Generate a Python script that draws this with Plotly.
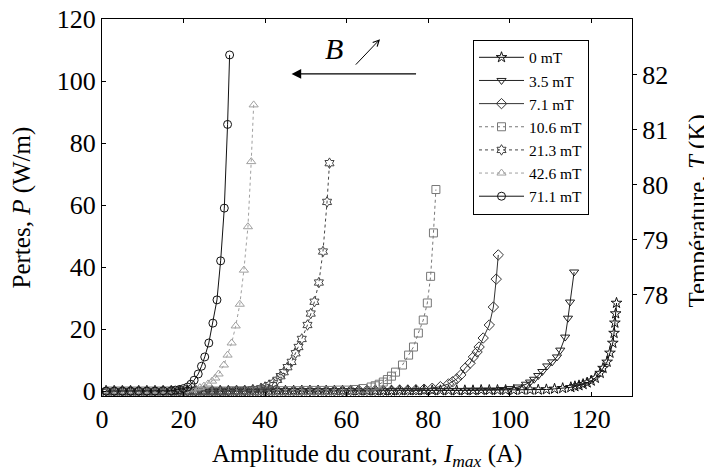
import plotly.graph_objects as go

# Data (current in A, losses in W/m)

i_0 = [1, 3, 5, 7, 9, 11, 13, 15, 17, 19, 21, 23, 25, 27, 29, 31, 33, 35, 37, 39, 41,
       43, 45, 47, 49, 51, 53, 55, 57, 59, 61, 63, 65, 67, 69, 71,
       73, 75, 77, 79, 81, 83, 85, 87, 89, 91, 93, 95, 97, 99, 101, 103, 105, 107,
       109, 111, 113, 115, 116, 117, 118, 119, 120, 121, 122.2, 122.9, 123.9, 124.6,
       125.3, 125.6, 125.8, 126.0, 126.2]
p_0 = [0.0, 0.0, 0.0, 0.0, 0.0, 0.0, 0.0, 0.0, 0.0, 0.0, 0.0, 0.0, 0.0, 0.0, 0.0, 0.0, 0.0, 0.0, 0.0, 0.0, 0.0,
       0.1, 0.1, 0.1, 0.1, 0.1, 0.1, 0.1, 0.1, 0.1, 0.1, 0.1, 0.1, 0.1, 0.1, 0.1,
       0.2, 0.2, 0.2, 0.2, 0.2, 0.2, 0.2, 0.2, 0.2, 0.2, 0.3, 0.3, 0.3, 0.3, 0.3, 0.4, 0.4, 0.4,
       0.5, 0.7, 0.9, 1.2, 1.5, 1.8, 2.2, 2.7, 3.3, 4.2, 5.8, 7.4, 9.4, 12.3,
       15.5, 18.7, 22.0, 25.0, 28.4]

i_35 = [2, 4, 6, 8, 10, 12, 14, 16, 18, 20, 22, 24, 26, 28, 30, 32, 34, 36, 38, 40,
        42, 44, 46, 48, 50, 52, 54, 56, 58, 60, 62, 64, 66, 68, 70,
        72, 74, 76, 78, 80, 82, 84, 86, 88, 90, 92, 94, 96,
        98, 100, 102, 104, 105, 106, 107, 108, 109.2, 110.4, 111.6, 112.4, 113.6,
        114.3, 114.8, 115.8]
p_35 = [0.0, 0.0, 0.0, 0.0, 0.0, 0.0, 0.0, 0.0, 0.0, 0.0, 0.0, 0.0, 0.0, 0.0, 0.0, 0.0, 0.0, 0.0, 0.0, 0.0,
        0.1, 0.1, 0.1, 0.1, 0.1, 0.1, 0.1, 0.1, 0.1, 0.1, 0.1, 0.1, 0.1, 0.1, 0.1,
        0.2, 0.2, 0.2, 0.2, 0.2, 0.2, 0.2, 0.2, 0.2, 0.3, 0.3, 0.3, 0.3,
        0.5, 0.8, 1.3, 2.2, 2.9, 3.8, 5.0, 6.3, 8.1, 9.4, 11.0, 13.2, 17.4,
        23.5, 28.7, 38.4]

i_71 = [1, 3, 5, 7, 9, 11, 13, 15, 17, 19, 21, 23, 25, 27, 29, 31, 33, 35,
        37, 39, 41, 43, 45, 47, 49, 51, 53, 55, 57, 59, 61, 63, 65, 67, 69, 71,
        73, 75, 77, 79, 81, 83, 85, 86, 87, 88, 89.1, 90.3, 91.1, 92, 92.5, 93.5,
        95, 96, 96.7, 97.2]
p_71 = [0.0, 0.0, 0.0, 0.0, 0.0, 0.0, 0.0, 0.0, 0.0, 0.0, 0.0, 0.0, 0.0, 0.0, 0.0, 0.0, 0.0, 0.0,
        0.1, 0.1, 0.1, 0.1, 0.1, 0.1, 0.1, 0.1, 0.1, 0.1, 0.1, 0.1, 0.2, 0.2, 0.2, 0.2, 0.2, 0.2,
        0.3, 0.3, 0.4, 0.6, 0.9, 1.4, 2.3, 3.0, 3.9, 5.2, 7.4, 9.0, 11.0, 12.6, 14.2, 17.1,
        21.3, 27.1, 36.1, 43.9]

i_106 = [2, 4, 6, 8, 10, 12, 14, 16, 18, 20, 22, 24, 26, 28, 30,
         32, 34, 36, 38, 40, 42, 44, 46, 48, 50, 52, 54, 56, 58, 60,
         62, 64, 66, 67, 68, 69, 70, 71, 72, 73.7, 75.2, 76.4, 77.6, 78.8, 79.8,
         80.6, 81.3, 81.9]
p_106 = [0.0, 0.0, 0.0, 0.0, 0.0, 0.0, 0.0, 0.0, 0.0, 0.0, 0.0, 0.0, 0.0, 0.0, 0.0,
         0.1, 0.1, 0.1, 0.1, 0.1, 0.1, 0.1, 0.1, 0.1, 0.2, 0.2, 0.2, 0.2, 0.3, 0.3,
         0.5, 0.8, 1.3, 1.7, 2.2, 2.9, 3.7, 4.8, 6.1, 8.4, 11.6, 14.2, 18.7, 22.9, 28.4,
         37.0, 51.0, 65.0]

i_213 = [1, 3, 5, 7, 9, 11, 13, 15, 17, 19, 21, 23, 25, 27, 29, 31, 33, 35,
         37, 39, 40, 41, 42, 43, 43.8, 44.6, 45.5, 46.5, 47.5, 48.2, 49, 50.4, 51.2,
         52.1, 53.2, 54.2, 55.2, 55.8]
p_213 = [0.0, 0.0, 0.0, 0.0, 0.0, 0.0, 0.0, 0.0, 0.0, 0.0, 0.0, 0.1, 0.1, 0.1, 0.1, 0.1, 0.2, 0.2,
         0.5, 0.9, 1.3, 1.9, 2.6, 3.6, 4.8, 6.1, 7.7, 9.4, 12.2, 14.2, 16.8, 21.3, 25.0,
         28.8, 35.0, 45.0, 61.0, 73.5]

i_426 = [2, 4, 6, 8, 10, 12, 14, 16, 18, 20,
         22, 23, 24, 25, 26, 27, 27.8, 28.6, 29.9, 30.8, 31.8, 32.8, 33.8, 34.8,
         35.8, 36.6, 37.2]
p_426 = [0.0, 0.0, 0.0, 0.0, 0.0, 0.0, 0.0, 0.1, 0.1, 0.2,
         0.4, 0.7, 1.1, 1.6, 2.3, 3.2, 4.2, 5.5, 8.4, 11.6, 15.5, 21.0, 28.0, 39.0,
         53.0, 74.0, 92.3]

i_711 = [1, 3, 5, 7, 9, 11, 13, 15, 17,
         18, 19, 20, 21, 21.8, 22.6, 23.6, 24.4, 25.2, 26.2, 27.2, 28.2, 29.1, 30.0,
         30.8, 31.3]
p_711 = [0.0, 0.0, 0.0, 0.0, 0.0, 0.0, 0.0, 0.1, 0.1,
         0.3, 0.5, 0.8, 1.3, 2.2, 3.5, 5.5, 8.0, 11.0, 15.5, 21.9, 29.4, 42.0, 59.0,
         86.0, 108.4]

labels = ['0 mT', '3.5 mT', '7.1 mT', '10.6 mT', '21.3 mT', '42.6 mT', '71.1 mT']
currents = [i_0, i_35, i_71, i_106, i_213, i_426, i_711]
losses = [p_0, p_35, p_71, p_106, p_213, p_426, p_711]

symbols = ['star-open', 'triangle-down-open', 'diamond-open', 'square-open',
           'hexagram-open', 'triangle-up-open', 'circle-open']
colors = ['#111111', '#222222', '#333333', '#777777', '#444444', '#a0a0a0', '#111111']
dashes = ['solid', 'solid', 'solid', 'dot', 'dot', 'dot', 'solid']

p_ticks = [0, 20, 40, 60, 80, 100, 120]
i_ticks = [0, 20, 40, 60, 80, 100, 120]
temp_range = [76.15, 83.02]
temp_ticks = [78, 79, 80, 81, 82]

FONT = 'Liberation Serif, Times New Roman, serif'

fig = go.Figure()

for lab, x, y, sym, col, dash in zip(labels, currents, losses, symbols, colors, dashes):
    fig.add_trace(go.Scatter(
        x=x, y=y, name=lab, mode='lines+markers',
        line=dict(color=col, width=1, dash=dash),
        marker=dict(symbol=sym, size=8, color=col, line=dict(width=1, color=col))))

# empty trace so the temperature axis gets drawn
fig.add_trace(go.Scatter(x=[None], y=[None], yaxis='y2', showlegend=False,
                         hoverinfo='skip'))

axis_style = dict(showline=True, linecolor='black', linewidth=1, tickcolor='black',
                  ticklen=4, showgrid=False, zeroline=False, automargin=False,
                  ticklabeloverflow='allow',
                  tickfont=dict(family=FONT, size=26, color='black'))

# page has an 8px body margin, so the figure is 704x468 and sits at (8, 8)
fig.update_layout(
    width=704, height=468,
    margin=dict(l=94, r=80, t=11, b=80),
    paper_bgcolor='white', plot_bgcolor='white',
    font=dict(family=FONT, size=24, color='black'),
    legend=dict(x=0.70, y=0.945, xanchor='left', yanchor='top',
                bgcolor='white', bordercolor='black', borderwidth=1,
                font=dict(family=FONT, size=15.5), tracegroupgap=0,
                itemwidth=45),
    xaxis=dict(range=[0, 130], tickvals=i_ticks, mirror='ticks', ticks='inside',
               **axis_style),
    yaxis=dict(range=[-1.6, 120], tickvals=p_ticks, ticks='inside', **axis_style),
    yaxis2=dict(range=temp_range, tickvals=temp_ticks, overlaying='y', side='right',
                ticks='outside', **axis_style),
)

# axis titles
fig.add_annotation(x=0.5, y=-0.157, xref='paper', yref='paper', showarrow=False,
                   text='Amplitude du courant, <i>I</i><sub><i>max</i></sub> (A)',
                   font=dict(family=FONT, size=25), yanchor='middle')
fig.add_annotation(x=-0.151, y=0.5, xref='paper', yref='paper', showarrow=False,
                   text='Pertes, <i>P</i> (W/m)', textangle=-90,
                   font=dict(family=FONT, size=25), xanchor='center')
fig.add_annotation(x=1.125, y=0.49, xref='paper', yref='paper', showarrow=False,
                   text='Température, <i>T</i> (K)', textangle=-90,
                   font=dict(family=FONT, size=25), xanchor='center')

# big arrow with B
fig.add_annotation(x=46.5, y=102.3, ax=77.4, ay=102.3, xref='x', yref='y',
                   axref='x', ayref='y', text='', showarrow=True,
                   arrowhead=2, arrowsize=1.6, arrowwidth=1.2, arrowcolor='black')
fig.add_annotation(x=57, y=110.5, xref='x', yref='y', text='<i>B</i>',
                   showarrow=False, font=dict(family=FONT, size=30))
fig.add_annotation(x=68.2, y=113.5, ax=61.9, ay=104.8, xref='x', yref='y',
                   axref='x', ayref='y', text='', showarrow=True,
                   arrowhead=5, arrowsize=1.2, arrowwidth=1, arrowcolor='black')

fig.write_html("out.html")
